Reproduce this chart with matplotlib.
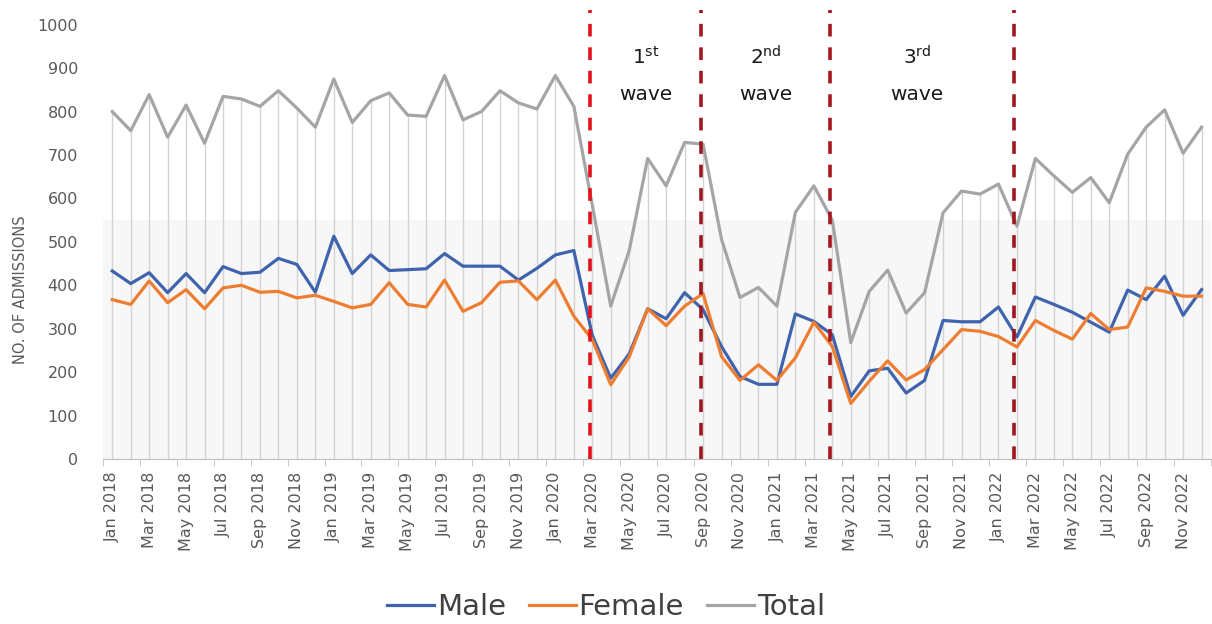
import numpy as np
import matplotlib
matplotlib.use("Agg")
import matplotlib.pyplot as plt

# monthly admissions, Jan 2018 .. Dec 2022
months = [f"{m} {y}" for y in range(2018, 2023)
          for m in ["Jan", "Feb", "Mar", "Apr", "May", "Jun",
                    "Jul", "Aug", "Sep", "Oct", "Nov", "Dec"]]

male = [433, 404, 429, 383, 427, 383, 443, 427, 430, 462, 448, 384,
        513, 427, 470, 434, 436, 438, 473, 444, 444, 444, 412, 439,
        470, 480, 285, 186, 242, 346, 323, 383, 344, 259, 190, 172,
        172, 334, 317, 286, 144, 203, 209, 152, 181, 319, 316, 316,
        350, 281, 373, 356, 338, 315, 292, 389, 367, 421, 331, 390]

female = [367, 356, 410, 360, 390, 346, 394, 400, 384, 386, 371, 377,
          363, 348, 356, 406, 356, 350, 412, 340, 360, 407, 410, 367,
          412, 329, 275, 171, 235, 346, 307, 352, 381, 236, 181, 217,
          181, 233, 315, 259, 128, 179, 226, 182, 206, 252, 298, 294,
          282, 258, 319, 296, 276, 335, 298, 304, 394, 386, 375, 375]

total = [800, 756, 839, 741, 815, 727, 835, 829, 812, 848, 808, 764,
         875, 775, 825, 843, 792, 789, 883, 781, 800, 848, 820, 806,
         883, 812, 585, 352, 480, 692, 629, 729, 725, 506, 372, 395,
         352, 568, 629, 550, 268, 386, 435, 336, 383, 567, 617, 610,
         633, 536, 692, 652, 614, 648, 590, 702, 764, 804, 704, 764]

wave_lines = [25.85, 31.9, 38.9, 48.85]
wave_colors = ["#e3121b", "#9e1620", "#a8161f", "#a0161f"]
wave_labels = [("1", "st", 28.9), ("2", "nd", 35.4), ("3", "rd", 43.6)]

x = np.arange(len(months))

fig = plt.figure(figsize=(12.12, 6.24), dpi=100)
ax = fig.add_axes([0.085, 0.2644, 0.914, 0.696])

ax.axhspan(0, 550, color="#f7f7f7", zorder=0, lw=0)

# drop lines
ax.vlines(x, 0, total, color="#d3d3d3", lw=1.0, zorder=1)

ax.plot(x, total, color="#a5a5a5", lw=2.3, label="Total", zorder=3)
ax.plot(x, male, color="#3f64ad", lw=2.3, label="Male", zorder=4)
ax.plot(x, female, color="#ed7d31", lw=2.3, label="Female", zorder=4)

# dashed wave markers
for xv, c in zip(wave_lines, wave_colors):
    ax.plot([xv, xv], [0, 1035], color=c, lw=2.6, clip_on=False, zorder=5,
            linestyle=(0, (3.5, 3.0)), dash_capstyle="butt")

for num, suf, xv in wave_labels:
    ax.text(xv, 926, num + r"$^{\mathrm{" + suf + "}}$", ha="center",
            va="center", fontsize=14.5, color="#1a1a1a")
    ax.text(xv, 840, "wave", ha="center", va="center", fontsize=14.5,
            color="#1a1a1a")

ax.set_xlim(-0.5, len(months) - 0.5)
ax.set_ylim(0, 1000)
ax.set_yticks(range(0, 1001, 100))
ax.tick_params(axis="y", length=0, pad=18, labelsize=11.5, labelcolor="#595959")

ax.set_xticks(x[::2])
ax.set_xticklabels(months[::2], rotation=90)
ax.set_xticks(np.arange(-0.5, len(months), 2), minor=True)
ax.tick_params(axis="x", which="major", length=0, pad=9, labelsize=11.5,
               labelcolor="#595959")
ax.tick_params(axis="x", which="minor", length=5, color="#bfbfbf")

for s in ["top", "right", "left"]:
    ax.spines[s].set_visible(False)
ax.spines["bottom"].set_color("#bfbfbf")

fig.text(0.017, 1 - 290 / 624, "NO. OF ADMISSIONS", rotation=90,
         ha="center", va="center", fontsize=10.5, color="#595959")

handles, labels = ax.get_legend_handles_labels()
order = [1, 2, 0]
fig.legend([handles[i] for i in order], [labels[i] for i in order],
           loc="center", bbox_to_anchor=(0.5, 0.027), ncol=3, frameon=False,
           fontsize=21, handlelength=1.6, handletextpad=0.1, columnspacing=0.8,
           labelcolor="#404040")

fig.savefig("out.png", dpi=100)
